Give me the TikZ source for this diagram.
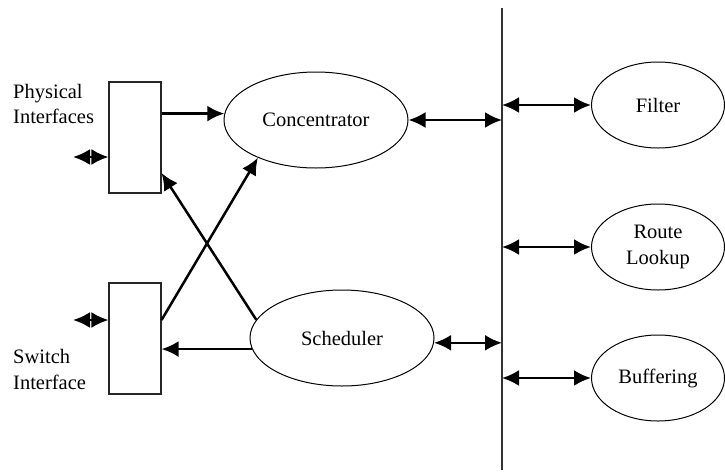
\documentclass[tikz,border=0pt]{standalone}
\usepackage{fontspec}
\setmainfont{Liberation Serif}
\usetikzlibrary{shapes.geometric,arrows.meta}
\begin{document}
\begin{tikzpicture}[x=1pt,y=-1pt,
  txt/.style={font=\fontsize{20.5}{25.5}\selectfont},
  proc/.style={ellipse,draw,line width=1pt,inner sep=0pt,txt,align=center},
  port/.style={draw,line width=1.1pt,draw=black!85,minimum width=52pt,minimum height=111pt,inner sep=0pt},
  arr/.style={line width=2.5pt,-{Latex[length=17pt,width=16pt]}},
  dbl/.style={line width=2.5pt,{Latex[length=17pt,width=16pt]}-{Latex[length=17pt,width=16pt]}},
  lbl/.style={txt,align=left,anchor=west,inner sep=0pt}]
\useasboundingbox (0,0) rectangle (725,472);
% vertical bus
\coordinate (bt) at (502,8);
\coordinate (bb) at (502,470);
\draw[line width=1.2pt,black!80] (bt) -- (bb);
% rectangles
\node[port] (prect) at (135,137.5) {};
\node[port] (srect) at (135,338.5) {};
% ellipses
\node[proc,minimum width=184pt,minimum height=96pt] (conc) at (316,120) {Concentrator};
\node[proc,minimum width=184pt,minimum height=96pt] (sched) at (342,338) {Scheduler};
\node[proc,minimum width=133pt,minimum height=86pt] (filt) at (658,105) {Filter};
\node[proc,minimum width=133pt,minimum height=86pt] (route) at (658,247) {Route\\Lookup};
\node[proc,minimum width=133pt,minimum height=86pt] (buf) at (658,378) {Buffering};
% labels
\node[lbl] (plbl) at (13,104) {Physical\\Interfaces};
\node[lbl] (slbl) at (13,369.5) {Switch\\Interface};
% external ports
\coordinate (pin) at (73,157);
\coordinate (sin) at (73,320);
\draw[dbl] (pin) -- (pin -| prect.west);
\draw[dbl] (sin) -- (sin -| srect.west);
% connectors
\draw[arr] (prect.east |- conc.176) -- (conc.176);
\draw[arr] (srect.east |- sin) -- (conc.213);
\draw[arr] (sched.168) -- ([yshift=-35.5pt]prect.east);
\draw[arr] (sched.187) -- (sched.187 -| srect.east);
\draw[dbl] (conc.east) -- (conc.east -| bt);
\draw[dbl] (sched.-3) -- (sched.-3 -| bt);
\draw[dbl] (filt.west -| bt) -- (filt.west);
\draw[dbl] (route.west -| bt) -- (route.west);
\draw[dbl] (buf.west -| bt) -- (buf.west);
\end{tikzpicture}
\end{document}
